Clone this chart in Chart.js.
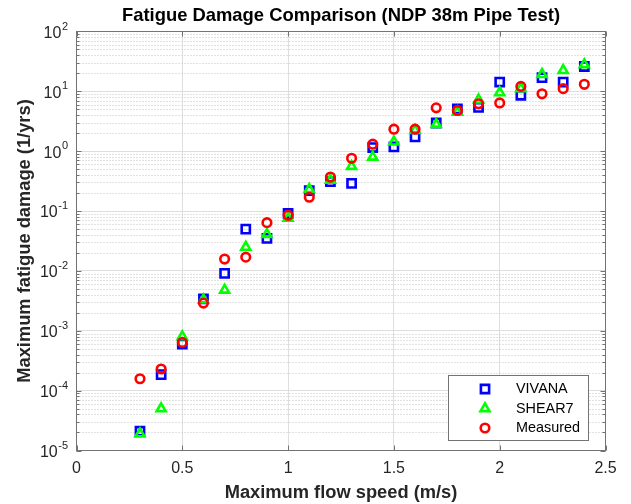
<!DOCTYPE html>
<html>
<head>
<meta charset="utf-8">
<script src="https://cdn.jsdelivr.net/npm/chart.js@4/dist/chart.umd.min.js"></script>
<style>
html,body{margin:0;padding:0;background:#fff;}
canvas{display:block;}
</style>
</head>
<body>
<canvas id="c" width="631" height="504"></canvas>
<script>
// ---- data ----
const speeds   = [0.3,0.4,0.5,0.6,0.7,0.8,0.9,1.0,1.1,1.2,1.3,1.4,1.5,1.6,1.7,1.8,1.9,2.0,2.1,2.2,2.3,2.4];
const vivana   = [2.1e-5,1.85e-4,6.0e-4,3.4e-3,9.1e-3,5.0e-2,3.5e-2,9.1e-2,0.22,0.31,0.29,1.15,1.18,1.73,2.96,5.1,5.4,14.3,8.6,16.9,14.3,26];
const shear7   = [1.9e-5,5.0e-5,8.0e-4,3.3e-3,4.8e-3,2.5e-2,4.1e-2,7.6e-2,0.23,0.33,0.56,0.80,1.43,2.24,2.8,4.5,7.2,9.5,11.1,19.2,22.4,28];
const measured = [1.58e-4,2.3e-4,6.4e-4,2.9e-3,1.58e-2,1.7e-2,6.4e-2,8.5e-2,0.17,0.37,0.76,1.31,2.33,2.33,5.3,4.8,6.2,6.4,12.1,9.1,11.1,13.1];
const seriesNames = ['VIVANA','SHEAR7','Measured'];
const xTickValues = [0,0.5,1,1.5,2,2.5];
const xTickLabels = ['0','0.5','1','1.5','2','2.5'];
const yTickValues = [1e-5,1e-4,1e-3,1e-2,1e-1,1e0,1e1,1e2];
const yTickBase = '10';
const yTickExponents = ['-5','-4','-3','-2','-1','0','1','2'];
const titleText = 'Fatigue Damage Comparison (NDP 38m Pipe Test)';
const xLabel = 'Maximum flow speed (m/s)';
const yLabel = 'Maximum fatigue damage (1/yrs)';

const FONT = "'Liberation Sans', Arial, Helvetica, sans-serif";
const AXIS = '#737373';
const TXT = '#262626';

const styles = [
  {color:'#0000ff', pointStyle:'rect', radius:5.8, order:3},
  {color:'#00ff00', pointStyle:'triangle', radius:5.2, order:2},
  {color:'#ff0000', pointStyle:'circle', radius:4.3, order:1}
];
const series = [vivana, shear7, measured];

const datasets = series.map((vals, k) => ({
  label: seriesNames[k],
  data: speeds.map((x, i) => ({x: x, y: vals[i]})),
  showLine: false,
  pointStyle: styles[k].pointStyle,
  pointRadius: styles[k].radius,
  pointHoverRadius: styles[k].radius,
  pointBorderWidth: 2.6,
  pointBorderColor: styles[k].color,
  pointBackgroundColor: 'rgba(0,0,0,0)',
  order: styles[k].order
}));

function drawMarker(ctx, style, r, x, y) {
  ctx.beginPath();
  if (style === 'rect') {
    const s = Math.SQRT1_2 * r;
    ctx.rect(x - s, y - s, 2 * s, 2 * s);
  } else if (style === 'triangle') {
    let a = 0;
    ctx.moveTo(x + Math.sin(a) * r, y - Math.cos(a) * r);
    a += 2 * Math.PI / 3;
    ctx.lineTo(x + Math.sin(a) * r, y - Math.cos(a) * r);
    a += 2 * Math.PI / 3;
    ctx.lineTo(x + Math.sin(a) * r, y - Math.cos(a) * r);
    ctx.closePath();
  } else {
    ctx.arc(x, y, r, 0, 2 * Math.PI);
  }
  ctx.stroke();
}

const framePlugin = {
  id: 'frame',
  beforeDatasetsDraw(chart) {
    const {ctx, chartArea: a, scales: {y}} = chart;
    ctx.save();
    // minor dotted grid (log decades)
    ctx.strokeStyle = '#c4c4c4';
    ctx.lineWidth = 1;
    ctx.setLineDash([1, 2]);
    for (let e = -5; e < 2; e++) {
      for (let m = 2; m <= 9; m++) {
        const py = Math.round(y.getPixelForValue(m * Math.pow(10, e))) + 0.5;
        ctx.beginPath(); ctx.moveTo(a.left, py); ctx.lineTo(a.right, py); ctx.stroke();
      }
    }
    ctx.restore();
  },
  afterDatasetsDraw(chart) {
    const {ctx, chartArea: a, scales: {x, y}} = chart;
    ctx.save();
    ctx.strokeStyle = AXIS;
    ctx.lineWidth = 1;
    // y ticks (inside, both sides)
    for (let e = -5; e < 2; e++) {
      for (let m = 1; m <= 9; m++) {
        const py = Math.round(y.getPixelForValue(m * Math.pow(10, e))) + 0.5;
        const len = m === 1 ? 5 : 3;
        ctx.beginPath();
        ctx.moveTo(a.left, py); ctx.lineTo(a.left + len, py);
        ctx.moveTo(a.right, py); ctx.lineTo(a.right - len, py);
        ctx.stroke();
      }
    }
    // x ticks (inside, top and bottom)
    xTickValues.forEach(v => {
      const px = Math.round(x.getPixelForValue(v)) + 0.5;
      ctx.beginPath();
      ctx.moveTo(px, a.bottom); ctx.lineTo(px, a.bottom - 5);
      ctx.moveTo(px, a.top); ctx.lineTo(px, a.top + 5);
      ctx.stroke();
    });
    // box
    ctx.strokeRect(a.left, a.top, a.right - a.left, a.bottom - a.top);

    // y tick labels: 10 with superscript exponent
    ctx.fillStyle = TXT;
    ctx.textBaseline = 'middle';
    ctx.textAlign = 'right';
    const rightX = a.left - 8.5;
    yTickValues.forEach((v, i) => {
      const py = y.getPixelForValue(v);
      ctx.font = '11px ' + FONT;
      const ew = ctx.measureText(yTickExponents[i]).width;
      ctx.fillText(yTickExponents[i], rightX, py - 5);
      ctx.font = '16px ' + FONT;
      ctx.fillText(yTickBase, rightX - ew - 0.5, py + 2);
    });

    // legend
    const L = {x: 448.5, y: 375.5, w: 140, h: 65};
    ctx.fillStyle = '#ffffff';
    ctx.fillRect(L.x, L.y, L.w, L.h);
    ctx.strokeStyle = AXIS;
    ctx.lineWidth = 1;
    ctx.strokeRect(L.x, L.y, L.w, L.h);
    const rows = [389, 408.5, 428];
    ctx.font = '14.4px ' + FONT;
    ctx.textBaseline = 'middle';
    ctx.textAlign = 'left';
    seriesNames.forEach((name, k) => {
      ctx.strokeStyle = styles[k].color;
      ctx.lineWidth = 2.6;
      drawMarker(ctx, styles[k].pointStyle, styles[k].radius, 485, rows[k]);
      ctx.fillStyle = '#000000';
      ctx.fillText(name, 516, rows[k] + 0.5);
    });
    ctx.restore();
  }
};

new Chart(document.getElementById('c'), {
  type: 'scatter',
  data: {datasets: datasets},
  options: {
    responsive: false,
    animation: false,
    devicePixelRatio: 1,
    layout: {padding: {left: 0, right: 25.5, top: 0, bottom: 0}},
    plugins: {
      legend: {display: false},
      tooltip: {enabled: false},
      title: {
        display: true,
        text: titleText,
        fullSize: false,
        color: '#000000',
        font: {family: FONT, size: 18.4, weight: 'bold', lineHeight: 1.2},
        padding: {top: 5, bottom: 4.4}
      }
    },
    scales: {
      x: {
        type: 'linear',
        min: 0, max: 2.5,
        afterFit(s) { s.height = 53.5; },
        afterBuildTicks(s) { s.ticks = xTickValues.map(v => ({value: v})); },
        ticks: {
          color: TXT,
          font: {family: FONT, size: 16, lineHeight: 1.2},
          padding: 8,
          maxRotation: 0,
          autoSkip: false,
          callback: (v, i) => xTickLabels[i]
        },
        grid: {color: '#dedede', lineWidth: 1, drawTicks: false},
        border: {display: false},
        title: {
          display: true, text: xLabel, color: TXT,
          font: {family: FONT, size: 18.3, weight: 'bold', lineHeight: 1.2},
          padding: {top: 0, bottom: 0}
        }
      },
      y: {
        type: 'logarithmic',
        min: 1e-5, max: 1e2,
        afterFit(s) { s.width = 76.5; },
        afterBuildTicks(s) { s.ticks = yTickValues.map(v => ({value: v, major: true})); },
        ticks: {display: false, autoSkip: false},
        grid: {color: '#dedede', lineWidth: 1, drawTicks: false},
        border: {display: false},
        title: {
          display: true, text: yLabel, color: TXT,
          font: {family: FONT, size: 18.3, weight: 'bold', lineHeight: 1.2},
          padding: {top: 14, bottom: 0}
        }
      }
    }
  },
  plugins: [framePlugin]
});
</script>
</body>
</html>
